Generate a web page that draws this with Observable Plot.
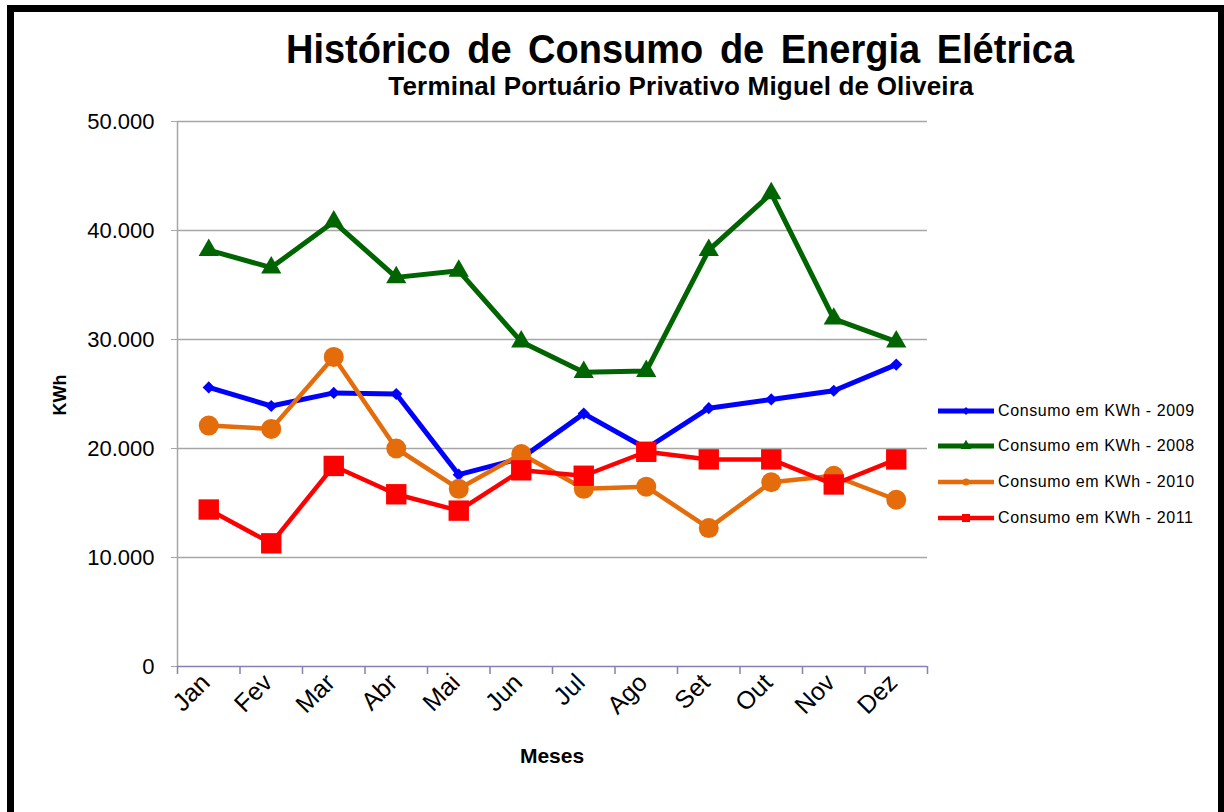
<!DOCTYPE html>
<html><head><meta charset="utf-8">
<script src="https://cdn.jsdelivr.net/npm/d3@7"></script>
<script src="https://cdn.jsdelivr.net/npm/@observablehq/plot@0.6"></script>
<style>
body{margin:0;background:#fff;}
#wrap{position:relative;width:1224px;height:812px;overflow:hidden;font-family:"Liberation Sans",Arial,sans-serif;color:#000;background:#fff;}
#frame{position:absolute;left:7px;top:5px;width:1218px;height:840px;border:7px solid #000;box-sizing:border-box;pointer-events:none;}
#head{position:relative;height:110px;}
#title{position:absolute;left:0;width:1360px;top:31px;text-align:center;font-weight:bold;font-size:38px;line-height:38px;word-spacing:6px;transform:scaleY(1.08);transform-origin:50% 84%;}
#subtitle{position:absolute;left:0;width:1362px;top:73px;text-align:center;font-weight:bold;font-size:26px;line-height:26px;letter-spacing:0.2px;}
#ylab{position:absolute;left:60px;top:395px;transform:translate(-50%,-50%) rotate(-90deg);font-weight:bold;font-size:18px;white-space:nowrap;}
#xlab{position:absolute;left:552px;top:756px;transform:translate(-50%,-50%);font-weight:bold;font-size:21px;white-space:nowrap;}
#legend{position:absolute;left:938px;top:393px;}
.row{display:flex;align-items:center;height:35.6px;}
.row span{font-size:16px;letter-spacing:0.6px;margin-left:4px;white-space:nowrap;}
</style>
</head><body>
<div id="wrap">
  <div id="head">
    <div id="title">Histórico de Consumo de Energia Elétrica</div>
    <div id="subtitle">Terminal Portuário Privativo Miguel de Oliveira</div>
  </div>
  <div id="chart"></div>
  <div id="ylab">KWh</div>
  <div id="xlab">Meses</div>
  <div id="legend"></div>
  <div id="frame"></div>
</div>
<script>
const months = ["Jan","Fev","Mar","Abr","Mai","Jun","Jul","Ago","Set","Out","Nov","Dez"];
const kwh2009 = [25600,23900,25100,25000,17600,19100,23200,20000,23700,24500,25300,27700];
const kwh2008 = [38200,36600,40800,35700,36300,29800,27000,27100,38200,43400,31900,29800];
const kwh2010 = [22100,21800,28400,20000,16300,19500,16300,16500,12700,16900,17500,15300];
const kwh2011 = [14400,11300,18400,15800,14300,18000,17500,19700,19000,19000,16700,19000];
const seriesNames = ["Consumo em KWh - 2009","Consumo em KWh - 2008","Consumo em KWh - 2010","Consumo em KWh - 2011"];
const yTicks = [0,10000,20000,30000,40000,50000];

const styles = [
  {values:kwh2009, color:"#0000ff", width:5,   symbol:"diamond2", d3sym:d3.symbolDiamond2, r:5.5,  lr:3.5},
  {values:kwh2008, color:"#006400", width:5,   symbol:"triangle", d3sym:d3.symbolTriangle, r:7.5,  lr:4},
  {values:kwh2010, color:"#e46c0a", width:4.5, symbol:"circle",   d3sym:d3.symbolCircle,   r:10,   lr:3.5},
  {values:kwh2011, color:"#ff0000", width:4.5, symbol:"square",   d3sym:d3.symbolSquare,   r:11.5, lr:4.5}
];
const series = styles.map((s,k)=>({...s, name:seriesNames[k],
  data: s.values.map((v,i)=>({i, month:months[i], v}))}));

const fmt = d3.formatLocale({decimal:",",thousands:".",grouping:[3],currency:["R$",""]}).format(",d");
const boundaries = d3.range(months.length+1).map(i=>i-0.5);

const marks = [
  Plot.ruleY(yTicks.slice(1), {stroke:"#a6a6a6", strokeWidth:1.5}),
  Plot.axisY({ticks:yTicks, tickFormat:fmt, tickSize:6, tickPadding:17, stroke:"#a6a6a6", fontSize:22, label:null}),
  Plot.ruleX([boundaries[0]], {stroke:"#a6a6a6", strokeWidth:1.5}),
  Plot.axisX({ticks:boundaries, tickFormat:()=>"", tickSize:8, stroke:"#8a7fb5", strokeWidth:1.5, label:null}),
  Plot.axisX({ticks:d3.range(months.length), tickFormat:i=>months[i], tickSize:0, tickPadding:12, tickRotate:-45, fontSize:25, dx:-3, label:null}),
  Plot.ruleY([0], {stroke:"#8a7fb5", strokeWidth:1.5})
];
for (const s of series) {
  marks.push(Plot.line(s.data, {x:"i", y:"v", stroke:s.color, strokeWidth:s.width, strokeLinejoin:"round", strokeLinecap:"round"}));
  marks.push(Plot.dot(s.data, {x:"i", y:"v", symbol:s.symbol, r:s.r, fill:s.color, stroke:"none"}));
}

const chart = Plot.plot({
  width:1224, height:702,
  marginLeft:177, marginRight:297, marginTop:11, marginBottom:146,
  style:{fontFamily:"Liberation Sans, Arial, sans-serif", fontSize:"20px", color:"#000", background:"transparent", overflow:"visible"},
  x:{type:"linear", domain:[boundaries[0], boundaries[boundaries.length-1]]},
  y:{domain:[0,50000]},
  marks
});
document.getElementById("chart").appendChild(chart);

const legend = document.getElementById("legend");
for (const s of series) {
  const row = document.createElement("div");
  row.className = "row";
  const svg = d3.create("svg").attr("width",56).attr("height",16);
  svg.append("line").attr("x1",0).attr("x2",56).attr("y1",8).attr("y2",8)
     .attr("stroke",s.color).attr("stroke-width",s.width).attr("stroke-linecap","round");
  svg.append("path").attr("transform","translate(28,8)")
     .attr("d", d3.symbol(s.d3sym, Math.PI*s.lr*s.lr)()).attr("fill",s.color);
  row.appendChild(svg.node());
  const t = document.createElement("span");
  t.textContent = s.name;
  row.appendChild(t);
  legend.appendChild(row);
}
</script>
</body></html>
